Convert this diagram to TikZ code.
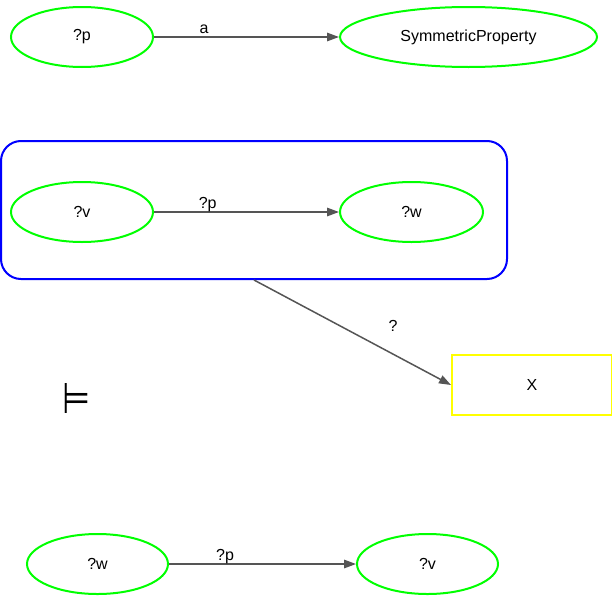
\documentclass[tikz,border=0pt]{standalone}
\usepackage{fontspec}
\setmainfont{Liberation Sans}
\newfontfamily\symbolfont{DejaVu Sans}
\usetikzlibrary{shapes.geometric,arrows.meta}

\tikzset{
  every node/.style={font=\fontsize{16}{19}\selectfont},
  term/.style={ellipse, draw={rgb,255:red,0;green,255;blue,0}, line width=2pt,
               minimum height=60pt, inner sep=0pt},
  formula/.style={draw={rgb,255:red,0;green,0;blue,255}, line width=2pt,
                  rounded corners=20pt, minimum width=506pt, minimum height=138pt},
  result/.style={draw={rgb,255:red,255;green,255;blue,0}, line width=2pt,
                 minimum width=160pt, minimum height=60pt},
  rel/.style={draw={rgb,255:red,85;green,85;blue,85}, line width=1.5pt,
              -{Triangle[length=12pt,width=8.5pt]}},
  lbl/.style={anchor=base, yshift=4pt, inner sep=0pt},
}

\begin{document}
\begin{tikzpicture}[x=1pt,y=-1pt]
  \useasboundingbox (0,0) rectangle (612,597);

  % triple: ?p a SymmetricProperty
  \node[term, minimum width=142pt] (p) at (82,37) {?p};
  \node[term, minimum width=257pt] (sym) at (468.5,37) {SymmetricProperty};
  \draw[rel] (p) -- (sym) node[lbl, pos=0.27] {a};

  % quoted graph { ?v ?p ?w }
  \node[formula] (g) at (254,210) {};
  \node[term, minimum width=142pt] (v1) at (82,212) {?v};
  \node[term, minimum width=143pt] (w1) at (411.5,212) {?w};
  \draw[rel] (v1) -- (w1) node[lbl, pos=0.29] {?p};

  % implication target
  \node[result] (x) at (532,385) {X};
  \draw[rel] (g.south) -- (x.west);
  \node (q) at (393,326) {?};

  % entailment sign
  \node[inner sep=0pt] (ent) at (76,398.5) {\resizebox{28pt}{30pt}{\symbolfont ⊨}};

  % conclusion: ?w ?p ?v
  \node[term, minimum width=141pt] (w2) at (97.5,564) {?w};
  \node[term, minimum width=141pt] (v2) at (427.5,564) {?v};
  \draw[rel] (w2) -- (v2) node[lbl, pos=0.30] {?p};
\end{tikzpicture}
\end{document}
